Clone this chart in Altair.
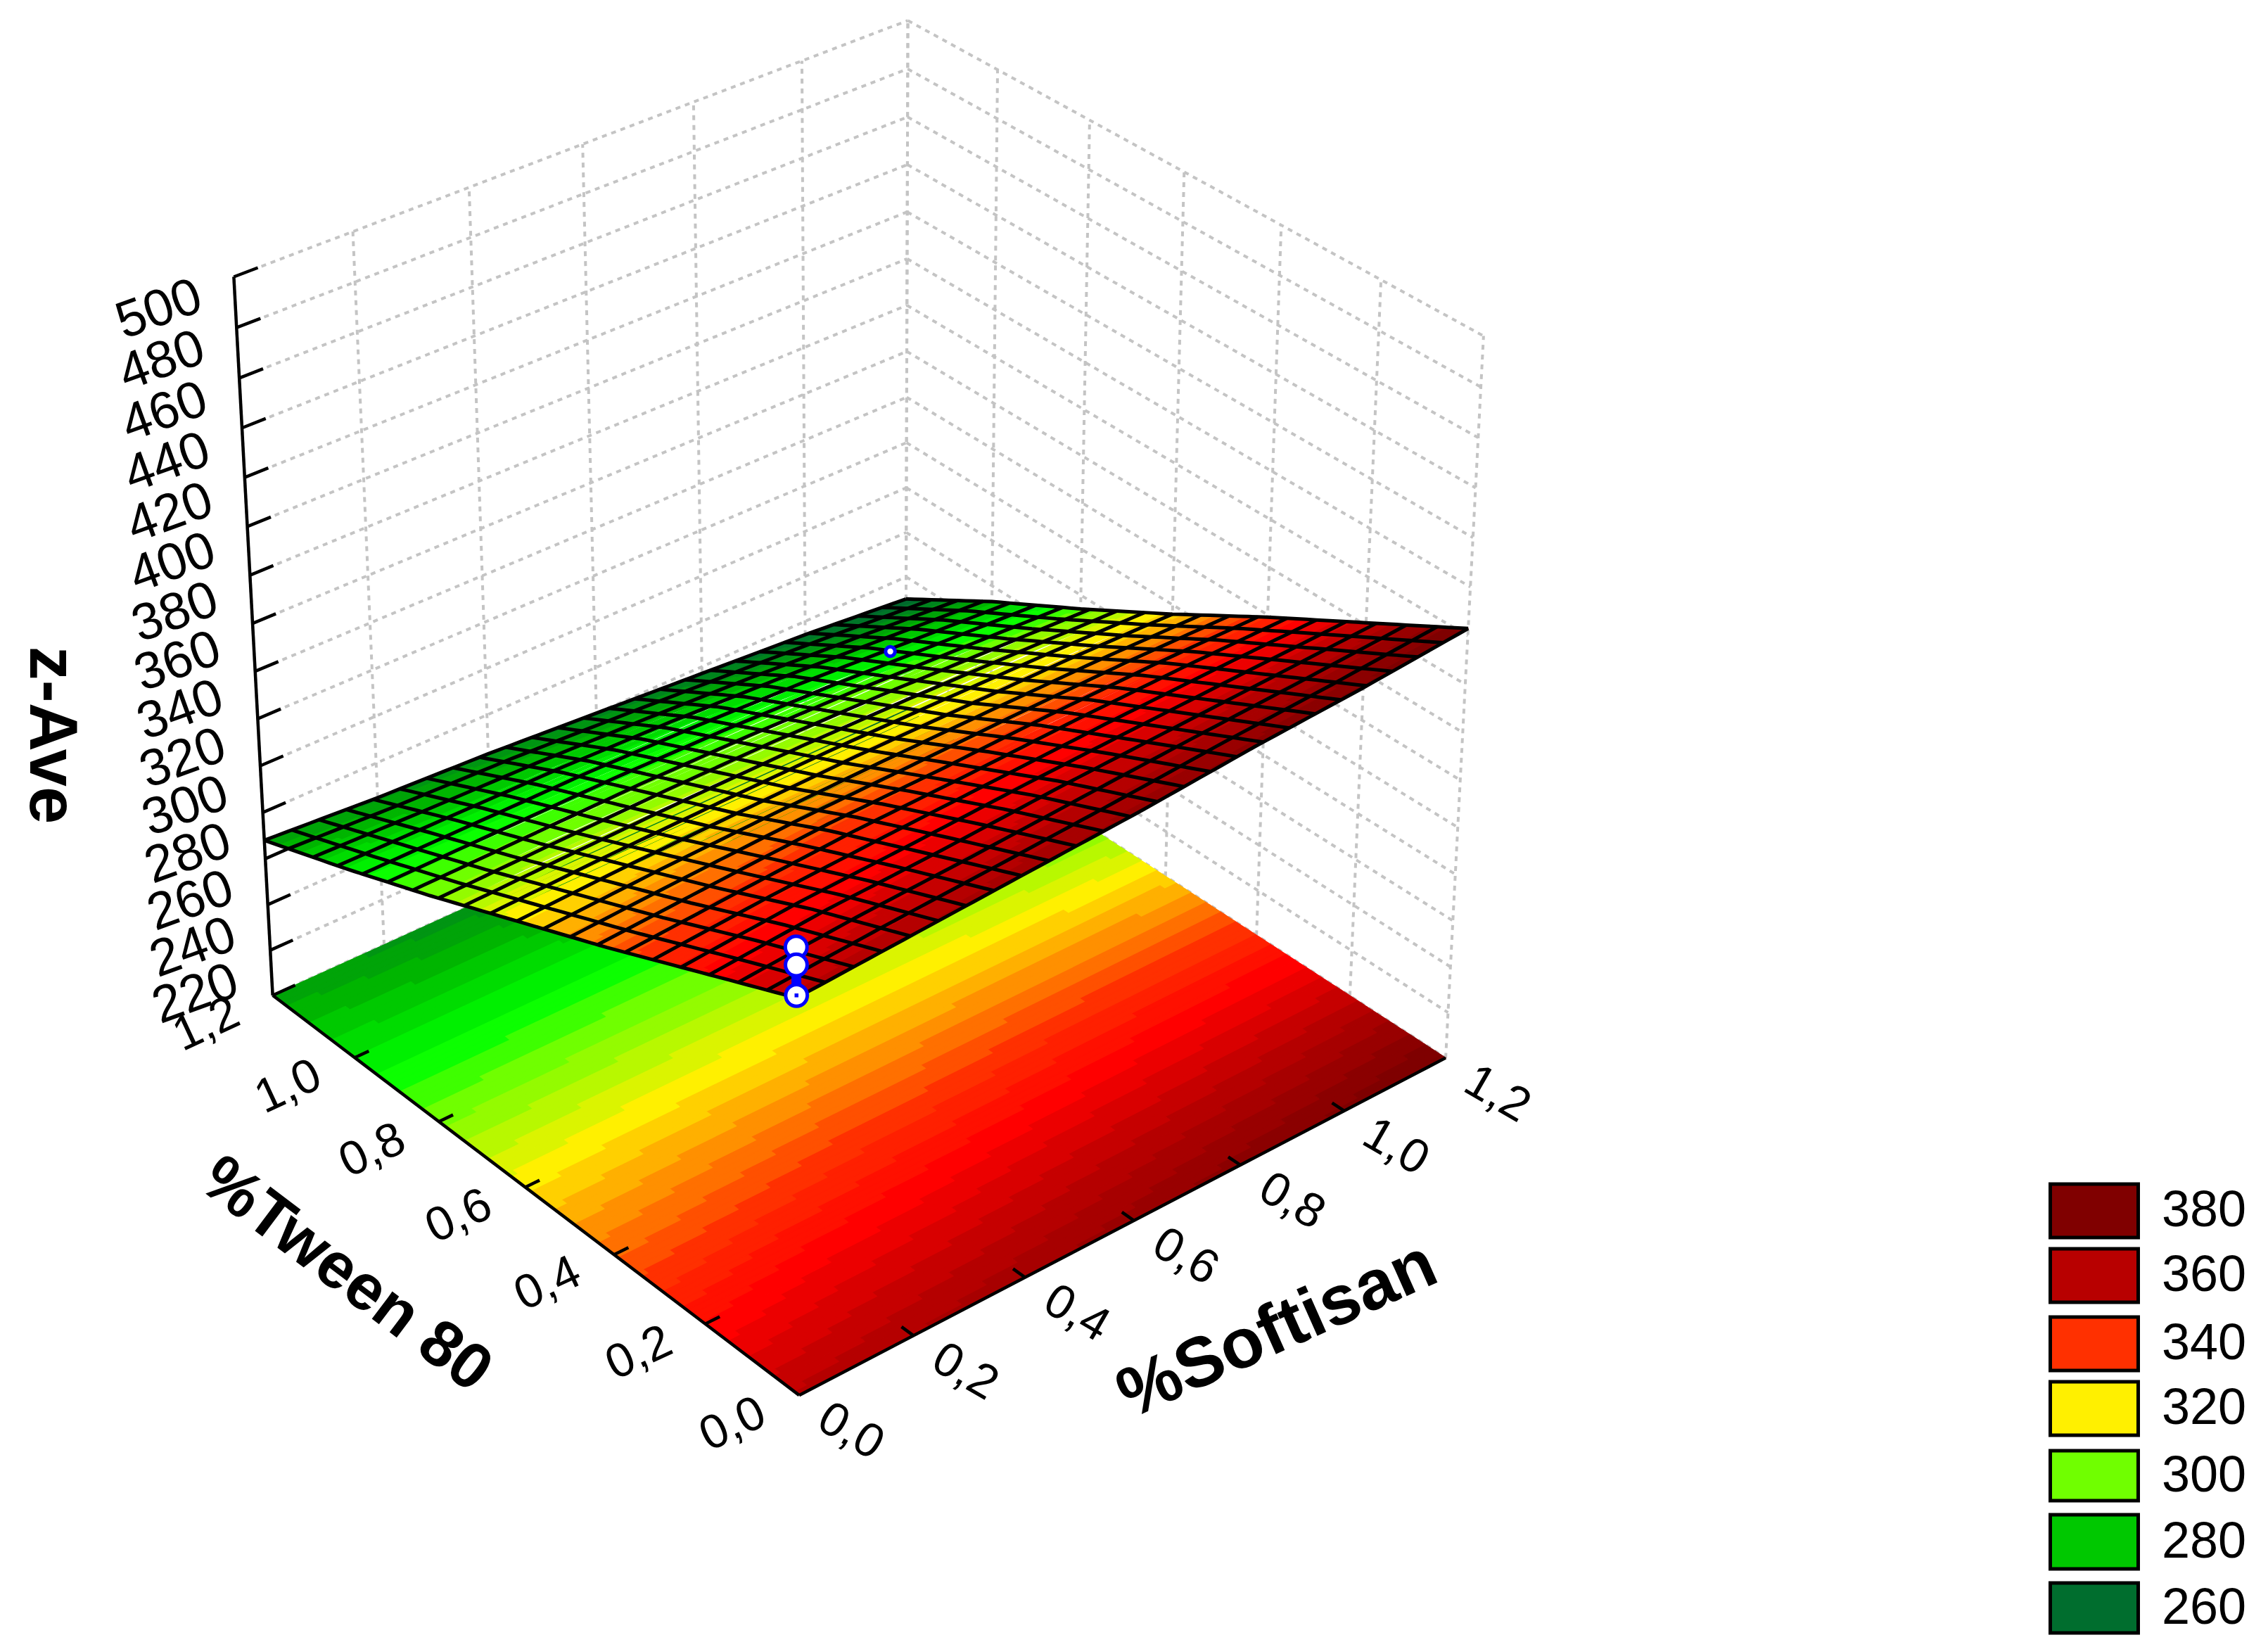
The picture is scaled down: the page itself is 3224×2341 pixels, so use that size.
import numpy as np
import pandas as pd
import altair as alt

alt.data_transformers.disable_max_rows()

# ---- values ----
TICKS_ST = [0.0, 0.2, 0.4, 0.6, 0.8, 1.0, 1.2]
TICK_TEXT = ["0,0", "0,2", "0,4", "0,6", "0,8", "1,0", "1,2"]
Z_TICKS = [200, 220, 240, 260, 280, 300, 320, 340, 360, 380, 400, 420, 440, 460, 480, 500]
Z_LABELLED = Z_TICKS[1:]
Z_MIN, Z_MAX = 200, 500

# Surface heights read at the tick crossings; rows are %Tween 80, columns %Softisan.
Z_T00 = [363, 366, 369, 372, 376, 379, 383]
Z_T02 = [346, 350, 352, 355, 357, 359, 361]
Z_T04 = [329, 332, 335, 336, 338, 339, 339]
Z_T06 = [313, 315, 316, 317, 317, 317, 316]
Z_T08 = [297, 298, 299, 299, 298, 296, 294]
Z_T10 = [282, 282, 282, 281, 279, 276, 273]
Z_T12 = [268, 265, 263, 260, 257, 254, 250]
Z_TABLE = np.array([Z_T00, Z_T02, Z_T04, Z_T06, Z_T08, Z_T10, Z_T12], dtype=float)

OBS_S = [0.0, 0.0, 0.0, 1.0]
OBS_T = [0.0, 0.0, 0.0, 1.0]
OBS_Z = [383, 376, 364, 271]

LEGEND_VALUES = [380, 360, 340, 320, 300, 280, 260]
LEGEND_COLORS = ["#800000", "#b80000", "#ff3000", "#fff000", "#70ff00", "#00c800", "#006e2e"]
LEGEND_TOP = [1683, 1775, 1872, 1964, 2062, 2153, 2250]
LEGEND_BOTTOM = [1759, 1851, 1948, 2040, 2133, 2230, 2321]

# Each legend label is the upper limit of its band, so the colours sit below their labels.
COLOR_DOMAIN = [245, 254, 271, 287, 296, 312, 336, 348, 363, 379, 395]
COLOR_RANGE = ["#005a2a", "#006e2e", "#00b000", "#00ff00", "#70ff00", "#fff000",
               "#ff3000", "#ff0000", "#b80000", "#800000", "#700000"]

# ---- camera: perspective fitted to the box corners seen in the picture ----
CORNERS = [
    ((0, 0, 0), (1135, 1980)),
    ((1, 0, 0), (2054, 1507)),
    ((0, 1, 0), (388, 1420)),
    ((1, 1, 0), (1289, 1001)),
    ((0, 1, 1), (333, 391)),
    ((1, 1, 1), (1288, 32)),
    ((1, 0, 1), (2111, 477)),
]
rows = []
for (a, b, c), (u, v) in CORNERS:
    rows.append([a, b, c, 1, 0, 0, 0, 0, -u * a, -u * b, -u * c, -u])
    rows.append([0, 0, 0, 0, a, b, c, 1, -v * a, -v * b, -v * c, -v])
P = np.linalg.svd(np.array(rows, dtype=float))[2][-1].reshape(3, 4)


def project(s, t, z):
    s, t, z = np.asarray(s, float), np.asarray(t, float), np.asarray(z, float)
    h = np.stack([s / 1.2 + 0 * (t + z), t / 1.2 + 0 * (s + z), (z - Z_MIN) / (Z_MAX - Z_MIN) + 0 * (s + t), np.ones_like(s + t + z)])
    q = P @ h
    return q[0] / q[2], q[1] / q[2]


def height(s, t):
    """Reads the table between its crossings for the drawn surface."""
    s, t = np.asarray(s, float), np.asarray(t, float)
    i = np.clip((t / 0.2).astype(int), 0, 5)
    j = np.clip((s / 0.2).astype(int), 0, 5)
    u, v = t / 0.2 - i, s / 0.2 - j
    return (Z_TABLE[i, j] * (1 - u) * (1 - v) + Z_TABLE[i + 1, j] * u * (1 - v)
            + Z_TABLE[i, j + 1] * (1 - u) * v + Z_TABLE[i + 1, j + 1] * u * v)


def lines(segments):
    out = []
    for k, (ss, tt, zz) in enumerate(segments):
        x, y = project(ss, tt, zz)
        out += [{"x": float(a), "y": float(b), "k": k, "o": n} for n, (a, b) in enumerate(zip(x, y))]
    return pd.DataFrame(out)


def banded(on_floor, n=110, step=4.0):
    """Colour bands as runs of quads, as in the stepped shading of the original."""
    grid = np.linspace(0, 1.2, n + 1)
    mid = (grid[:-1] + grid[1:]) / 2
    out = []
    cell = 0
    for i in range(n):
        lv = np.round(height(mid, np.full(n, mid[i])) / step) * step
        start = 0
        for j in range(1, n + 1):
            if j == n or lv[j] != lv[start]:
                ss = np.array([grid[start], grid[j], grid[j], grid[start]])
                tt = np.array([grid[i], grid[i], grid[i + 1], grid[i + 1]])
                zz = np.full(4, Z_MIN, float) if on_floor else height(ss, tt)
                x, y = project(ss, tt, zz)
                for o in range(4):
                    out.append({"x": float(x[o]), "y": float(y[o]), "cell": cell, "o": o, "lv": float(lv[start])})
                cell += 1
                start = j
    return pd.DataFrame(out)


XS = alt.Scale(domain=[8, 3216], nice=False, zero=False)
YS = alt.Scale(domain=[2333, 8], nice=False, zero=False)
X = alt.X("x:Q", scale=XS, axis=None)
Y = alt.Y("y:Q", scale=YS, axis=None)
FILL_SCALE = alt.Scale(domain=COLOR_DOMAIN, range=COLOR_RANGE, interpolate="rgb")


def quads(df):
    return alt.Chart(df).mark_line(filled=True, strokeWidth=1.5, strokeJoin="round").encode(
        x=X, y=Y, detail="cell:N", order="o:Q",
        fill=alt.Fill("lv:Q", scale=FILL_SCALE, legend=None),
        stroke=alt.Stroke("lv:Q", scale=FILL_SCALE, legend=None),
    )


def path(df, **mark):
    return alt.Chart(df).mark_line(**mark).encode(x=X, y=Y, detail="k:N", order="o:Q")


# walls
wall = []
for z in Z_TICKS:
    wall.append(([0, 1.2], [1.2, 1.2], [z, z]))
    wall.append(([1.2, 1.2], [1.2, 0], [z, z]))
for v in TICKS_ST:
    wall.append(([v, v], [1.2, 1.2], [Z_MIN, Z_MAX]))
    wall.append(([1.2, 1.2], [v, v], [Z_MIN, Z_MAX]))
walls = path(lines(wall), color="#c4c4c4", strokeWidth=4, strokeDash=[7, 7])

# mesh on the surface
MESH_S, MESH_T = 25, 20
mesh = []
fine = np.linspace(0, 1.2, 61)
for v in np.linspace(0, 1.2, MESH_S + 1):
    ss = np.full_like(fine, v)
    mesh.append((ss, fine, height(ss, fine)))
for v in np.linspace(0, 1.2, MESH_T + 1):
    tt = np.full_like(fine, v)
    mesh.append((fine, tt, height(fine, tt)))
mesh_layer = path(lines(mesh), color="#000000", strokeWidth=5)

# axes and ticks
axes = [
    ([0, 0], [1.2, 1.2], [Z_MIN, Z_MAX]),
    ([0, 0], [1.2, 0], [Z_MIN, Z_MIN]),
    ([0, 1.2], [0, 0], [Z_MIN, Z_MIN]),
]
for z in Z_TICKS:
    axes.append(([0, 0.04], [1.2, 1.2], [z, z]))
for v in TICKS_ST[1:6]:
    axes.append(([0, 0.025], [v, v], [Z_MIN, Z_MIN]))
    axes.append(([v, v], [0, 0.025], [Z_MIN, Z_MIN]))
axes_layer = path(lines(axes), color="#000000", strokeWidth=4.5)


def labels(xs, ys, texts, size, angle, weight="normal", align="center"):
    df = pd.DataFrame({"x": np.atleast_1d(xs), "y": np.atleast_1d(ys), "label": texts})
    return alt.Chart(df).mark_text(
        font="Liberation Sans", fontSize=size, angle=angle, fontWeight=weight,
        align=align, baseline="middle", color="#000000",
    ).encode(x=X, y=Y, text="label:N")


zx, zy = project(np.zeros(len(Z_LABELLED)), np.full(len(Z_LABELLED), 1.2), Z_LABELLED)
z_gap = 47 + 16 * (500 - np.array(Z_LABELLED)) / 280
z_labels = labels(zx - 106, zy + z_gap, [str(z) for z in Z_LABELLED], 74, 340)

tx, ty = project(np.zeros(7), TICKS_ST, np.full(7, Z_MIN))
t_labels = labels(tx - 94, ty + 42, TICK_TEXT, 68, 335)
sx, sy = project(TICKS_ST, np.zeros(7), np.full(7, Z_MIN))
s_labels = labels(sx + 73, sy + 52, TICK_TEXT, 68, 30)

title_z = labels([72], [1045], ["z-Ave"], 96, 90, "bold")
title_t = labels([492], [1812], ["%Tween 80"], 92, 37, "bold")
title_s = labels([1816], [1891], ["%Softisan"], 100, 336, "bold")

# observed points
ox, oy = project(OBS_S, OBS_T, OBS_Z)
obs = pd.DataFrame({"x": ox, "y": oy, "s": OBS_S})
front = obs[obs["s"] == 0]
rear = obs[obs["s"] > 0]
obs_rule = alt.Chart(pd.DataFrame({"x": [ox[1], ox[2]], "y": [oy[1], oy[2]], "o": [0, 1]})).mark_line(
    color="#0000ff", strokeWidth=14).encode(x=X, y=Y, order="o:Q")
obs_front = alt.Chart(front).mark_point(
    shape="circle", filled=False, fill="#ffffff", stroke="#0000ff", strokeWidth=5, size=950, opacity=1
).encode(x=X, y=Y)
obs_rear = alt.Chart(rear).mark_point(
    shape="circle", filled=False, fill="#ffffff", stroke="#0000ff", strokeWidth=5, size=180, opacity=1
).encode(x=X, y=Y)
obs_dot = alt.Chart(front.iloc[[2]]).mark_point(
    shape="square", filled=True, color="#0000ff", size=30, opacity=1
).encode(x=X, y=Y)

# legend
leg = pd.DataFrame({"x": 2914.5, "x2": 3039.5, "y": LEGEND_TOP, "y2": LEGEND_BOTTOM,
                    "c": LEGEND_COLORS, "label": [str(v) for v in LEGEND_VALUES]})
leg["tx"] = 3133
leg["ty"] = (leg["y"] + leg["y2"]) / 2
leg_rect = alt.Chart(leg).mark_rect(stroke="#000000", strokeWidth=5).encode(
    x=X, x2="x2:Q", y=Y, y2="y2:Q", fill=alt.Fill("c:N", scale=None))
leg_text = alt.Chart(leg).mark_text(
    font="Liberation Sans", fontSize=72, align="center", baseline="middle", color="#000000"
).encode(x=alt.X("tx:Q", scale=XS, axis=None), y=alt.Y("ty:Q", scale=YS, axis=None), text="label:N")

chart = alt.layer(
    walls, quads(banded(True)), axes_layer, quads(banded(False)), mesh_layer, obs_rear,
    obs_rule, obs_front, obs_dot, z_labels, t_labels, s_labels, title_z, title_t, title_s, leg_rect, leg_text,
).properties(width=3208, height=2325, padding=0, autosize=alt.AutoSizeParams(type="none")
).configure_view(strokeWidth=0)

chart.save("out.html", embed_options={"renderer": "svg", "actions": False})
